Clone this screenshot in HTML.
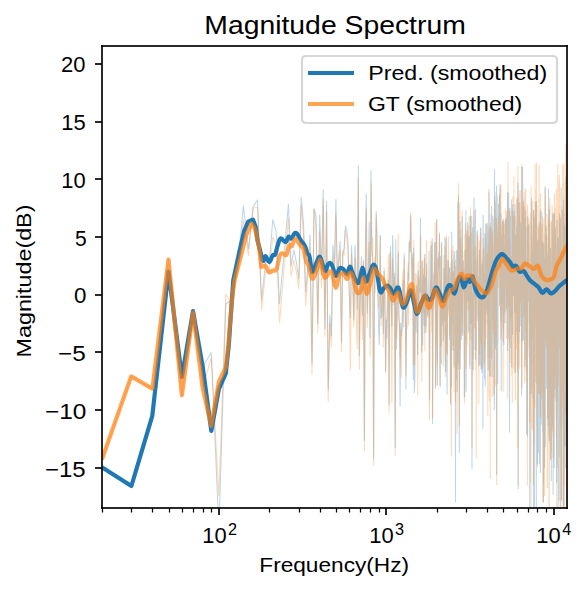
<!DOCTYPE html>
<html><head><meta charset="utf-8"><title>Magnitude Spectrum</title><style>html,body{margin:0;padding:0;background:#fff;}svg{display:block;font-family:"Liberation Sans",sans-serif;}</style></head><body>
<svg width="587" height="591" viewBox="0 0 587 591">
<rect x="0" y="0" width="587" height="591" fill="#ffffff"/>
<defs><clipPath id="ax"><rect x="101.917" y="46.0" width="465.0" height="462.0"/></clipPath></defs>
<g clip-path="url(#ax)" fill="none" stroke-linejoin="round">
<polyline points="101.9,467.2 131.4,486.0 152.3,415.8 168.5,271.5 181.9,377.0 193.0,311.0 202.7,366.6 211.3,352.6 218.9,530.0 225.8,304.0 232.2,300.0 238.0,262.0 243.4,206.0 248.4,249.0 253.1,207.0 257.5,200.0 261.6,300.0 265.6,262.0 269.3,262.0 272.8,219.6 276.2,232.0 279.5,304.0 282.5,270.0 285.5,237.0 288.4,204.0 291.1,266.0 293.8,250.0 296.3,262.0 298.8,279.0 301.2,197.4 303.5,222.3 305.7,292.0 307.9,266.7 310.0,234.9 312.0,364.1 314.0,208.7 316.0,216.0 317.8,323.3 319.7,214.9 321.5,274.6 323.2,189.4 324.9,328.5 326.6,201.2 328.2,389.0 329.8,314.8 331.4,335.7 332.9,244.9 334.4,265.5 335.9,199.3 337.3,274.7 338.8,257.0 340.1,241.2 341.5,342.8 342.8,253.6 344.1,248.0 345.4,226.1 346.7,229.4 347.9,240.2 349.2,291.1 350.4,317.5 351.5,245.8 352.7,274.2 353.8,319.7 355.0,245.5 356.1,273.4 357.2,309.3 358.3,165.8 359.3,355.3 360.4,285.4 361.4,257.1 362.4,315.5 363.4,261.2 364.4,440.5 365.4,239.7 366.3,194.1 367.3,312.9 368.2,274.7 369.2,222.1 370.1,337.8 371.0,170.5 371.9,248.1 372.7,261.8 373.6,458.3 374.5,265.5 375.3,274.1 376.2,211.4 377.0,233.6 377.8,292.5 378.6,329.5 379.4,344.7 380.2,234.9 381.0,318.3 381.8,314.9 382.6,289.7 383.3,333.5 384.1,271.5 384.8,296.4 385.6,371.2 386.3,319.8 387.0,338.0 387.7,298.7 388.4,279.9 389.1,405.0 389.8,266.7 390.5,246.6 391.2,307.3 391.9,326.6 392.6,235.5 393.2,258.1 393.9,304.9 394.5,273.0 395.2,447.6 395.8,239.7 396.4,349.3 397.1,309.3 397.7,281.2 398.3,253.0 398.9,318.5 399.5,325.4 400.1,406.0 400.7,322.9 401.3,335.9 401.9,331.2 402.5,317.2 403.1,280.4 403.7,327.1 404.2,253.4 404.8,304.2 405.4,298.8 405.9,388.8 406.5,332.9 407.0,295.4 407.6,296.1 408.1,271.9 408.6,279.9 409.2,242.6 409.7,241.3 410.2,252.1 410.7,215.5 411.3,255.0 411.8,269.0 412.3,304.0 412.8,253.3 413.3,379.2 413.8,248.2 414.3,392.8 414.8,381.3 415.3,303.0 415.8,299.4 416.2,332.3 416.7,285.5 417.2,289.0 417.7,354.4 418.1,271.0 418.6,314.4 419.1,288.6 419.5,277.0 420.0,291.5 420.5,217.7 420.9,279.4 421.4,330.2 421.8,352.0 422.2,261.5 422.7,345.3 423.1,288.3 423.6,275.0 424.0,324.9 424.4,254.6 424.9,332.8 425.3,277.5 425.7,278.0 426.1,326.3 426.5,263.7 427.0,293.6 427.4,313.7 427.8,315.9 428.2,302.0 428.6,310.2 429.0,250.9 429.4,399.9 429.8,309.2 430.2,301.8 430.6,287.7 431.0,245.8 431.4,309.3 431.8,301.4 432.2,238.5 432.6,423.5 432.9,317.2 433.3,292.0 433.7,273.3 434.1,294.3 434.5,242.7 434.8,297.5 435.2,242.2 435.6,388.5 435.9,335.3 436.3,272.3 436.7,219.3 437.0,335.8 437.4,385.4 437.8,311.5 438.1,257.7 438.5,268.3 438.8,252.3 439.2,252.3 439.5,234.2 439.9,289.5 440.2,387.0 440.6,256.2 440.9,308.0 441.3,363.9 441.6,242.2 441.9,325.5 442.3,296.1 442.6,292.9 442.9,308.3 443.3,341.0 443.6,299.7 443.9,268.0 444.3,295.3 444.6,321.0 444.9,237.3 445.2,347.4 445.6,371.5 445.9,324.0 446.2,238.4 446.5,277.2 446.8,344.8 447.1,393.9 447.5,319.0 447.8,260.1 448.1,291.1 448.4,261.3 448.7,283.0 449.0,310.7 449.3,268.2 449.6,340.1 449.9,267.5 450.2,312.3 450.5,404.3 450.8,327.2 451.1,263.1 451.4,386.5 451.7,232.2 452.0,324.5 452.3,259.8 452.6,294.2 452.9,350.4 453.2,271.4 453.5,275.3 453.8,300.1 454.0,367.1 454.3,256.2 454.6,251.6 454.9,301.6 455.2,259.8 455.5,501.4 455.7,330.9 456.0,379.7 456.3,299.5 456.6,250.4 456.9,312.6 457.1,391.6 457.4,338.9 457.7,202.3 457.9,363.3 458.2,351.2 458.5,195.7 458.8,262.4 459.0,239.9 459.3,452.5 459.6,341.5 459.8,241.2 460.1,221.5 460.3,368.4 460.6,238.2 460.9,249.1 461.1,294.7 461.4,339.6 461.6,270.8 461.9,303.4 462.2,216.4 462.4,282.4 462.7,335.4 462.9,262.3 463.2,276.4 463.4,260.7 463.7,271.1 463.9,281.4 464.2,295.3 464.4,396.5 464.7,396.9 464.9,249.7 465.2,338.9 465.4,252.5 465.7,294.3 465.9,210.3 466.1,391.2 466.4,311.1 466.6,274.6 466.9,235.1 467.1,301.3 467.3,236.8 467.6,222.4 467.8,230.2 468.1,238.3 468.3,332.8 468.5,288.4 468.8,330.8 469.0,264.5 469.2,236.4 469.5,271.2 469.7,285.1 469.9,368.6 470.2,290.6 470.4,216.2 470.6,301.8 470.8,323.4 471.1,310.2 471.3,311.3 471.5,313.2 471.7,216.2 472.0,468.6 472.2,291.7 472.4,347.7 472.6,227.6 472.9,306.7 473.1,342.6 473.3,369.8 473.5,279.2 473.7,240.4 474.0,197.8 474.2,294.3 474.4,270.6 474.6,298.3 474.8,260.1 475.0,349.5 475.2,247.0 475.5,209.6 475.7,359.3 475.9,259.2 476.1,350.5 476.3,302.5 476.5,294.4 476.7,293.6 476.9,272.4 477.1,273.0 477.4,256.3 477.6,230.6 477.8,320.2 478.0,299.6 478.2,300.7 478.4,276.5 478.6,314.9 478.8,365.2 479.0,354.9 479.2,255.5 479.4,250.0 479.6,347.2 479.8,300.9 480.0,365.1 480.2,315.0 480.4,232.6 480.6,341.7 480.8,227.7 481.0,368.9 481.2,319.8 481.4,287.3 481.6,299.5 481.8,372.5 482.0,264.8 482.2,339.1 482.4,307.4 482.6,267.6 482.8,260.0 482.9,428.3 483.1,215.0 483.3,247.3 483.5,249.3 483.7,281.1 483.9,257.0 484.1,269.1 484.3,358.6 484.5,378.7 484.7,261.5 484.8,233.5 485.0,289.9 485.2,385.7 485.4,317.9 485.6,286.2 485.8,247.7 486.0,224.0 486.1,301.9 486.3,238.2 486.5,308.9 486.7,264.0 486.9,310.0 487.1,314.0 487.2,223.2 487.4,287.2 487.6,226.5 487.8,357.0 488.0,286.2 488.1,370.0 488.3,232.3 488.5,230.1 488.7,264.0 488.9,234.5 489.0,189.4 489.2,321.0 489.4,358.1 489.6,345.7 489.7,375.9 489.9,227.8 490.1,252.4 490.3,375.9 490.4,256.7 490.6,247.5 490.8,263.8 491.0,214.5 491.1,279.4 491.3,228.3 491.5,358.5 491.6,206.5 491.8,278.0 492.0,338.1 492.1,376.4 492.3,295.1 492.5,267.7 492.7,236.3 492.8,216.1 493.0,267.6 493.2,219.1 493.3,319.1 493.5,289.1 493.7,381.0 493.8,396.1 494.0,260.0 494.2,303.8 494.3,409.6 494.5,169.6 494.6,266.0 494.8,303.4 495.0,192.6 495.1,276.3 495.3,349.1 495.5,247.6 495.6,201.6 495.8,283.0 495.9,207.3 496.1,344.4 496.3,330.5 496.4,201.1 496.6,186.1 496.7,474.2 496.9,256.7 497.1,195.7 497.2,240.5 497.4,256.3 497.5,240.7 497.7,383.5 497.8,235.9 498.0,343.6 498.2,254.3 498.3,224.5 498.5,204.0 498.6,217.7 498.8,242.6 498.9,222.8 499.1,252.6 499.2,237.7 499.4,199.2 499.6,193.4 499.7,305.5 499.9,250.0 500.0,185.1 500.2,215.8 500.3,275.9 500.5,267.6 500.6,321.2 500.8,246.5 500.9,213.6 501.1,307.7 501.2,391.0 501.4,272.9 501.5,267.8 501.7,315.0 501.8,234.7 502.0,243.6 502.1,303.0 502.3,239.3 502.4,221.9 502.5,251.1 502.7,296.8 502.8,219.7 503.0,318.9 503.1,341.5 503.3,331.8 503.4,219.0 503.6,314.0 503.7,222.4 503.9,344.6 504.0,252.2 504.1,244.0 504.3,316.1 504.4,267.5 504.6,274.1 504.7,312.4 504.9,233.8 505.0,323.0 505.1,243.5 505.3,221.7 505.4,219.6 505.6,228.8 505.7,220.4 505.9,243.4 506.0,311.0 506.1,252.4 506.3,258.4 506.4,307.4 506.5,218.3 506.7,256.8 506.8,239.9 507.0,271.7 507.1,216.5 507.2,308.1 507.4,212.5 507.5,192.4 507.7,350.5 507.8,233.1 507.9,217.9 508.1,224.8 508.2,214.1 508.3,245.1 508.5,305.2 508.6,193.1 508.7,222.3 508.9,338.1 509.0,273.6 509.1,309.2 509.3,281.4 509.4,284.0 509.5,432.0 509.7,380.2 509.8,208.2 509.9,215.8 510.1,294.3 510.2,347.2 510.3,292.3 510.5,216.5 510.6,244.8 510.7,301.5 510.9,288.7 511.0,278.1 511.1,295.2 511.3,316.6 511.4,199.8 511.5,227.4 511.6,317.3 511.8,367.1 511.9,276.7 512.0,217.8 512.2,282.7 512.3,290.0 512.4,211.2 512.5,217.8 512.7,334.3 512.8,204.8 512.9,240.9 513.1,271.6 513.2,216.6 513.3,243.8 513.4,227.5 513.6,247.7 513.7,293.9 513.8,295.5 513.9,227.4 514.1,214.6 514.2,279.9 514.3,211.1 514.4,279.6 514.6,312.4 514.7,257.2 514.8,273.7 514.9,298.6 515.1,204.6 515.2,343.9 515.3,242.6 515.4,371.9 515.6,330.8 515.7,365.6 515.8,255.0 515.9,234.8 516.0,288.1 516.2,298.9 516.3,244.7 516.4,311.7 516.5,227.3 516.7,251.5 516.8,254.3 516.9,220.8 517.0,331.2 517.1,199.8 517.3,249.5 517.4,204.9 517.5,256.8 517.6,372.0 517.7,294.9 517.9,183.2 518.0,187.3 518.1,256.4 518.2,488.5 518.3,262.2 518.4,196.1 518.6,342.9 518.7,320.0 518.8,243.6 518.9,254.8 519.0,317.8 519.2,301.6 519.3,215.7 519.4,227.8 519.5,331.5 519.6,286.9 519.7,202.8 519.8,304.4 520.0,266.9 520.1,296.6 520.2,326.2 520.3,303.6 520.4,270.2 520.5,297.2 520.7,267.9 520.8,302.2 520.9,223.1 521.0,255.0 521.1,302.2 521.2,294.4 521.3,268.3 521.5,257.1 521.6,395.4 521.7,285.5 521.8,167.5 521.9,292.1 522.0,290.0 522.1,312.7 522.2,299.4 522.4,245.6 522.5,306.8 522.6,167.3 522.7,341.1 522.8,184.0 522.9,265.1 523.0,338.3 523.1,271.0 523.2,199.2 523.4,200.7 523.5,339.8 523.6,245.1 523.7,253.4 523.8,291.4 523.9,221.2 524.0,314.5 524.1,248.7 524.2,299.3 524.3,206.7 524.4,283.9 524.6,226.6 524.7,227.7 524.8,259.6 524.9,366.4 525.0,219.2 525.1,293.6 525.2,319.7 525.3,240.0 525.4,217.5 525.5,308.6 525.6,303.0 525.7,211.0 525.8,246.2 526.0,293.4 526.1,359.3 526.2,227.0 526.3,300.4 526.4,287.2 526.5,428.0 526.6,433.9 526.7,393.2 526.8,263.6 526.9,347.7 527.0,422.3 527.1,294.6 527.2,273.1 527.3,289.9 527.4,435.9 527.5,262.0 527.6,228.4 527.7,220.8 527.8,216.5 527.9,295.6 528.0,258.3 528.2,279.5 528.3,300.5 528.4,292.4 528.5,240.8 528.6,291.5 528.7,285.6 528.8,227.1 528.9,323.0 529.0,224.8 529.1,356.6 529.2,280.7 529.3,318.1 529.4,282.5 529.5,350.4 529.6,282.0 529.7,507.0 529.8,282.2 529.9,321.4 530.0,322.6 530.1,482.1 530.2,270.3 530.3,313.0 530.4,311.5 530.5,344.8 530.6,350.3 530.7,329.6 530.8,293.3 530.9,253.8 531.0,393.4 531.1,221.4 531.2,231.4 531.3,388.6 531.4,207.3 531.5,198.7 531.6,364.4 531.7,225.4 531.8,283.9 531.9,270.6 532.0,338.4 532.1,313.9 532.2,301.9 532.3,312.1 532.4,308.6 532.5,322.0 532.6,313.6 532.7,250.3 532.8,266.9 532.9,255.3 532.9,398.3 533.0,279.8 533.1,237.9 533.2,236.0 533.3,328.6 533.4,210.0 533.5,523.3 533.6,228.7 533.7,211.2 533.8,405.8 533.9,455.7 534.0,253.9 534.1,268.3 534.2,294.3 534.3,344.3 534.4,530.0 534.5,217.7 534.6,266.5 534.7,282.4 534.8,319.6 534.9,245.3 534.9,268.9 535.0,283.1 535.1,256.4 535.2,292.9 535.3,279.9 535.4,201.8 535.5,237.0 535.6,313.6 535.7,329.2 535.8,248.4 535.9,382.2 536.0,250.9 536.1,248.2 536.2,254.1 536.3,508.5 536.3,239.1 536.4,242.2 536.5,201.3 536.6,289.1 536.7,340.6 536.8,312.5 536.9,243.3 537.0,362.0 537.1,317.8 537.2,245.6 537.3,275.7 537.4,297.2 537.4,464.1 537.5,242.5 537.6,356.3 537.7,305.7 537.8,240.1 537.9,345.9 538.0,315.0 538.1,262.2 538.2,257.9 538.3,286.8 538.3,302.8 538.4,270.3 538.5,297.8 538.6,274.2 538.7,452.2 538.8,238.6 538.9,225.4 539.0,225.2 539.1,280.6 539.2,369.4 539.2,301.8 539.3,279.0 539.4,222.7 539.5,464.0 539.6,316.8 539.7,309.4 539.8,439.3 539.9,312.2 539.9,311.3 540.0,289.4 540.1,279.4 540.2,336.1 540.3,365.0 540.4,472.5 540.5,255.1 540.6,381.3 540.6,210.3 540.7,422.9 540.8,254.3 540.9,291.8 541.0,391.8 541.1,374.7 541.2,342.6 541.3,423.9 541.3,243.1 541.4,334.4 541.5,394.5 541.6,384.2 541.7,287.6 541.8,388.3 541.9,265.2 541.9,212.0 542.0,308.9 542.1,224.0 542.2,283.4 542.3,341.9 542.4,397.6 542.4,274.7 542.5,296.3 542.6,332.2 542.7,432.0 542.8,263.8 542.9,246.9 543.0,242.6 543.0,431.4 543.1,333.7 543.2,502.6 543.3,355.0 543.4,313.0 543.5,483.8 543.5,341.3 543.6,263.9 543.7,244.1 543.8,368.5 543.9,265.1 544.0,284.2 544.0,257.4 544.1,260.3 544.2,313.4 544.3,265.2 544.4,275.1 544.5,293.6 544.5,364.6 544.6,467.8 544.7,288.8 544.8,266.3 544.9,274.8 544.9,374.6 545.0,316.2 545.1,230.8 545.2,224.1 545.3,186.6 545.4,446.7 545.4,339.0 545.5,308.6 545.6,321.7 545.7,238.4 545.8,262.3 545.8,374.7 545.9,301.6 546.0,303.8 546.1,225.4 546.2,364.1 546.2,256.7 546.3,268.5 546.4,308.6 546.5,279.8 546.6,388.3 546.6,311.5 546.7,236.1 546.8,330.0 546.9,307.6 547.0,376.2 547.0,257.8 547.1,332.0 547.2,307.0 547.3,255.8 547.4,306.9 547.4,326.1 547.5,418.1 547.6,347.0 547.7,382.9 547.8,260.4 547.8,308.7 547.9,311.3 548.0,384.7 548.1,251.3 548.2,365.0 548.2,425.0 548.3,305.8 548.4,274.6 548.5,188.8 548.5,281.1 548.6,348.6 548.7,322.4 548.8,308.6 548.9,433.9 548.9,295.0 549.0,289.7 549.1,276.2 549.2,243.9 549.2,259.2 549.3,440.5 549.4,209.5 549.5,311.3 549.6,288.1 549.6,294.1 549.7,257.3 549.8,264.2 549.9,257.7 549.9,441.1 550.0,278.5 550.1,419.8 550.2,363.6 550.2,323.1 550.3,275.4 550.4,248.2 550.5,458.7 550.5,298.4 550.6,255.9 550.7,342.2 550.8,352.0 550.8,422.8 550.9,282.3 551.0,285.6 551.1,411.8 551.2,302.2 551.2,278.6 551.3,480.5 551.4,296.7 551.5,324.1 551.5,323.9 551.6,321.5 551.7,304.1 551.8,428.7 551.8,248.8 551.9,264.5 552.0,358.1 552.0,245.2 552.1,220.8 552.2,386.7 552.3,333.0 552.3,423.7 552.4,256.8 552.5,242.6 552.6,214.6 552.6,387.2 552.7,313.8 552.8,263.7 552.9,345.7 552.9,224.1 553.0,338.7 553.1,494.3 553.2,213.0 553.2,244.4 553.3,309.6 553.4,330.5 553.4,462.9 553.5,331.1 553.6,333.7 553.7,319.9 553.7,260.9 553.8,277.7 553.9,265.3 554.0,337.3 554.0,239.6 554.1,417.6 554.2,296.5 554.2,467.5 554.3,389.7 554.4,214.3 554.5,265.2 554.5,217.4 554.6,321.8 554.7,336.8 554.7,287.1 554.8,243.8 554.9,389.3 555.0,259.9 555.0,281.7 555.1,269.9 555.2,303.5 555.2,273.4 555.3,227.6 555.4,360.1 555.5,308.2 555.5,233.7 555.6,283.6 555.7,242.4 555.7,254.7 555.8,243.4 555.9,393.5 556.0,400.9 556.0,261.9 556.1,318.3 556.2,311.4 556.2,258.2 556.3,260.6 556.4,257.2 556.4,304.7 556.5,416.6 556.6,419.0 556.7,481.9 556.7,482.0 556.8,354.3 556.9,287.9 556.9,412.1 557.0,283.0 557.1,220.2 557.1,322.1 557.2,348.8 557.3,340.1 557.4,302.5 557.4,250.7 557.5,400.5 557.6,395.5 557.6,293.9 557.7,275.9 557.8,281.4 557.8,265.9 557.9,298.5 558.0,251.9 558.0,237.4 558.1,281.1 558.2,530.0 558.2,355.9 558.3,454.5 558.4,238.5 558.4,347.7 558.5,334.3 558.6,264.7 558.7,255.1 558.7,347.8 558.8,418.8 558.9,438.0 558.9,310.4 559.0,500.3 559.1,241.3 559.1,310.1 559.2,413.3 559.3,220.2 559.3,213.4 559.4,222.6 559.5,350.3 559.5,279.8 559.6,456.8 559.7,277.7 559.7,315.8 559.8,291.9 559.9,271.0 559.9,419.6 560.0,276.6 560.1,389.7 560.1,302.9 560.2,330.0 560.3,230.1 560.3,218.6 560.4,344.9 560.5,253.2 560.5,262.5 560.6,384.0 560.7,340.5 560.7,320.1 560.8,512.2 560.9,335.6 560.9,368.1 561.0,485.3 561.1,315.4 561.1,267.9 561.2,187.9 561.3,359.5 561.3,276.1 561.4,250.2 561.4,319.9 561.5,395.1 561.6,499.5 561.6,434.0 561.7,260.1 561.8,269.5 561.8,293.0 561.9,272.7 562.0,338.7 562.0,277.9 562.1,337.2 562.2,312.1 562.2,284.0 562.3,273.2 562.4,390.5 562.4,274.5 562.5,319.8 562.5,353.9 562.6,272.8 562.7,210.2 562.7,345.7 562.8,295.7 562.9,301.6 562.9,424.7 563.0,414.1 563.1,256.2 563.1,293.1 563.2,351.3 563.3,530.0 563.3,449.9 563.4,308.1 563.4,245.5 563.5,284.6 563.6,200.2 563.6,270.8 563.7,426.8 563.8,388.7 563.8,213.3 563.9,228.6 564.0,530.0 564.0,530.0 564.1,286.8 564.1,286.5 564.2,223.7 564.3,316.5 564.3,242.6 564.4,294.5 564.5,326.9 564.5,321.7 564.6,316.9 564.6,317.4 564.7,347.9 564.8,368.2 564.8,344.6 564.9,362.5 565.0,346.3 565.0,251.7 565.1,446.2 565.1,226.1 565.2,255.9 565.3,253.5 565.3,231.5 565.4,263.3 565.4,301.4 565.5,231.2 565.6,320.7 565.6,301.0 565.7,412.0 565.8,177.0 565.8,270.6 565.9,373.1 565.9,467.7 566.0,324.5 566.1,296.3 566.1,435.8 566.2,331.0 566.2,284.6 566.3,223.8 566.4,342.1 566.4,245.9 566.5,249.8 566.6,277.0 566.6,321.2 566.7,326.6 566.7,424.3 566.8,215.7 566.9,277.8 566.9,351.3" stroke="#1f77b4" stroke-opacity="0.3" stroke-width="1.04"/>
<polyline points="101.9,459.5 131.2,376.4 152.4,388.8 168.5,259.5 181.9,395.3 193.0,312.5 202.7,388.0 211.3,357.7 218.9,496.0 225.8,294.0 232.2,305.0 238.0,270.0 243.4,219.6 248.4,256.0 253.1,208.0 257.5,207.0 261.6,310.0 265.6,272.0 269.3,272.0 272.8,237.0 276.2,244.0 279.5,322.8 282.5,287.0 285.5,252.6 288.4,218.1 291.1,276.4 293.8,260.2 296.3,271.4 298.8,288.8 301.2,206.0 303.5,234.6 305.7,305.8 307.9,273.2 310.0,247.6 312.0,374.3 314.0,209.1 316.0,227.4 317.8,332.8 319.7,231.6 321.5,288.0 323.2,199.1 324.9,336.5 326.6,211.8 328.2,401.6 329.8,324.3 331.4,346.9 332.9,256.8 334.4,288.5 335.9,214.7 337.3,274.3 338.8,262.4 340.1,250.8 341.5,351.4 342.8,250.5 344.1,255.5 345.4,229.8 346.7,238.1 347.9,248.4 349.2,287.5 350.4,369.6 351.5,253.5 352.7,284.2 353.8,327.1 355.0,257.7 356.1,312.5 357.2,348.4 358.3,177.8 359.3,369.3 360.4,297.1 361.4,286.3 362.4,339.6 363.4,258.9 364.4,451.1 365.4,267.5 366.3,208.3 367.3,327.4 368.2,282.5 369.2,242.2 370.1,356.3 371.0,183.4 371.9,255.8 372.7,237.9 373.6,465.3 374.5,257.3 375.3,292.2 376.2,215.6 377.0,259.8 377.8,276.2 378.6,307.3 379.4,290.0 380.2,236.4 381.0,325.8 381.8,287.6 382.6,282.6 383.3,346.9 384.1,268.1 384.8,277.9 385.6,372.8 386.3,327.9 387.0,307.8 387.7,291.4 388.4,254.8 389.1,412.1 389.8,253.8 390.5,252.3 391.2,291.1 391.9,403.0 392.6,259.3 393.2,285.4 393.9,297.3 394.5,277.1 395.2,455.6 395.8,283.7 396.4,338.2 397.1,323.9 397.7,283.4 398.3,234.3 398.9,315.8 399.5,321.2 400.1,357.7 400.7,330.1 401.3,377.8 401.9,323.8 402.5,278.4 403.1,270.2 403.7,305.8 404.2,257.0 404.8,299.4 405.4,311.3 405.9,375.2 406.5,322.7 407.0,328.9 407.6,288.0 408.1,263.0 408.6,325.0 409.2,242.4 409.7,247.2 410.2,235.5 410.7,212.4 411.3,251.4 411.8,259.0 412.3,288.4 412.8,257.0 413.3,364.5 413.8,240.1 414.3,354.0 414.8,364.7 415.3,273.4 415.8,290.9 416.2,316.9 416.7,274.8 417.2,284.1 417.7,395.4 418.1,261.6 418.6,284.1 419.1,305.3 419.5,291.7 420.0,289.0 420.5,236.2 420.9,293.8 421.4,316.0 421.8,381.9 422.2,260.2 422.7,312.4 423.1,271.3 423.6,268.4 424.0,313.2 424.4,258.4 424.9,350.4 425.3,270.0 425.7,254.3 426.1,332.4 426.5,240.4 427.0,299.5 427.4,291.9 427.8,318.0 428.2,313.4 428.6,307.8 429.0,296.0 429.4,419.4 429.8,391.1 430.2,281.8 430.6,303.5 431.0,241.1 431.4,313.7 431.8,332.1 432.2,242.9 432.6,418.0 432.9,365.1 433.3,286.4 433.7,309.0 434.1,287.2 434.5,261.3 434.8,277.4 435.2,222.7 435.6,386.1 435.9,374.4 436.3,296.3 436.7,220.8 437.0,306.1 437.4,362.9 437.8,296.9 438.1,260.1 438.5,307.1 438.8,257.6 439.2,275.8 439.5,232.5 439.9,385.1 440.2,318.9 440.6,280.9 440.9,317.2 441.3,346.1 441.6,244.1 441.9,295.6 442.3,322.5 442.6,306.6 442.9,320.9 443.3,366.3 443.6,307.1 443.9,255.6 444.3,301.9 444.6,335.3 444.9,246.6 445.2,347.4 445.6,376.5 445.9,325.4 446.2,235.4 446.5,291.7 446.8,353.0 447.1,331.8 447.5,354.0 447.8,269.2 448.1,262.4 448.4,236.7 448.7,315.1 449.0,267.7 449.3,303.0 449.6,335.1 449.9,296.7 450.2,283.6 450.5,401.7 450.8,340.3 451.1,272.3 451.4,456.1 451.7,250.4 452.0,304.8 452.3,273.4 452.6,282.3 452.9,345.3 453.2,246.3 453.5,274.6 453.8,303.8 454.0,391.9 454.3,262.1 454.6,268.1 454.9,304.6 455.2,266.4 455.5,401.5 455.7,334.9 456.0,369.7 456.3,297.1 456.6,327.0 456.9,286.5 457.1,433.7 457.4,331.6 457.7,251.1 457.9,363.6 458.2,369.0 458.5,183.0 458.8,243.3 459.0,279.0 459.3,425.7 459.6,343.3 459.8,202.7 460.1,239.8 460.3,348.8 460.6,243.7 460.9,230.6 461.1,334.4 461.4,311.0 461.6,296.0 461.9,299.9 462.2,210.6 462.4,255.6 462.7,332.4 462.9,251.4 463.2,291.6 463.4,270.9 463.7,269.2 463.9,281.4 464.2,331.5 464.4,403.0 464.7,351.9 464.9,234.3 465.2,285.3 465.4,223.6 465.7,285.4 465.9,249.4 466.1,368.0 466.4,343.5 466.6,254.8 466.9,230.9 467.1,344.3 467.3,285.6 467.6,245.0 467.8,257.3 468.1,235.0 468.3,310.2 468.5,225.8 468.8,300.3 469.0,245.7 469.2,216.2 469.5,243.1 469.7,281.6 469.9,365.6 470.2,283.7 470.4,207.3 470.6,292.6 470.8,339.3 471.1,293.2 471.3,329.3 471.5,317.3 471.7,233.2 472.0,447.9 472.2,309.8 472.4,375.1 472.6,338.6 472.9,294.5 473.1,358.7 473.3,334.1 473.5,274.4 473.7,227.0 474.0,211.0 474.2,281.3 474.4,287.8 474.6,328.0 474.8,328.3 475.0,324.3 475.2,258.7 475.5,246.9 475.7,368.3 475.9,270.8 476.1,311.7 476.3,457.9 476.5,262.1 476.7,232.8 476.9,270.9 477.1,269.8 477.4,250.5 477.6,236.5 477.8,292.8 478.0,288.7 478.2,316.6 478.4,297.4 478.6,321.9 478.8,403.8 479.0,267.9 479.2,262.5 479.4,240.8 479.6,354.3 479.8,260.5 480.0,341.4 480.2,336.5 480.4,235.3 480.6,309.5 480.8,228.5 481.0,344.6 481.2,257.0 481.4,286.1 481.6,307.6 481.8,368.5 482.0,304.6 482.2,321.0 482.4,329.8 482.6,251.3 482.8,251.1 482.9,366.4 483.1,238.6 483.3,275.3 483.5,248.8 483.7,307.3 483.9,247.7 484.1,301.9 484.3,331.8 484.5,362.4 484.7,274.3 484.8,356.7 485.0,285.4 485.2,346.7 485.4,324.0 485.6,335.5 485.8,239.2 486.0,223.2 486.1,338.2 486.3,261.4 486.5,294.3 486.7,287.2 486.9,301.5 487.1,323.8 487.2,252.9 487.4,279.9 487.6,280.2 487.8,415.4 488.0,294.1 488.1,369.8 488.3,243.8 488.5,295.1 488.7,276.5 488.9,273.9 489.0,192.8 489.2,396.6 489.4,356.9 489.6,401.1 489.7,376.0 489.9,258.2 490.1,225.2 490.3,478.2 490.4,223.0 490.6,263.4 490.8,276.3 491.0,227.9 491.1,259.3 491.3,229.8 491.5,279.1 491.6,238.4 491.8,297.0 492.0,352.1 492.1,396.4 492.3,276.9 492.5,266.5 492.7,233.9 492.8,231.9 493.0,328.7 493.2,245.5 493.3,282.2 493.5,333.8 493.7,282.7 493.8,333.6 494.0,281.3 494.2,314.1 494.3,393.5 494.5,196.6 494.6,249.5 494.8,235.4 495.0,209.3 495.1,334.5 495.3,386.2 495.5,257.5 495.6,218.1 495.8,336.4 495.9,250.4 496.1,281.6 496.3,232.2 496.4,225.5 496.6,218.5 496.7,484.5 496.9,254.2 497.1,226.2 497.2,262.7 497.4,254.3 497.5,250.2 497.7,237.6 497.8,237.4 498.0,252.7 498.2,287.7 498.3,283.5 498.5,216.2 498.6,227.2 498.8,259.1 498.9,223.0 499.1,278.2 499.2,268.8 499.4,195.2 499.6,201.4 499.7,306.2 499.9,228.6 500.0,233.6 500.2,187.3 500.3,288.6 500.5,248.3 500.6,339.6 500.8,240.4 500.9,183.9 501.1,313.9 501.2,337.7 501.4,321.3 501.5,330.5 501.7,316.9 501.8,255.0 502.0,252.8 502.1,225.5 502.3,241.1 502.4,230.8 502.5,221.3 502.7,329.1 502.8,224.7 503.0,326.2 503.1,391.7 503.3,357.9 503.4,221.2 503.6,326.4 503.7,231.8 503.9,288.1 504.0,224.3 504.1,263.6 504.3,313.3 504.4,292.8 504.6,247.9 504.7,306.2 504.9,280.3 505.0,287.8 505.1,282.0 505.3,208.4 505.4,228.0 505.6,222.1 505.7,224.0 505.9,263.6 506.0,229.7 506.1,242.2 506.3,278.4 506.4,338.5 506.5,211.5 506.7,285.5 506.8,216.0 507.0,296.1 507.1,290.3 507.2,263.1 507.4,248.4 507.5,211.2 507.7,397.4 507.8,246.8 507.9,162.3 508.1,244.5 508.2,228.9 508.3,238.9 508.5,290.7 508.6,208.2 508.7,305.7 508.9,278.7 509.0,238.0 509.1,282.5 509.3,224.7 509.4,318.2 509.5,338.4 509.7,342.7 509.8,211.2 509.9,215.2 510.1,362.6 510.2,334.9 510.3,244.7 510.5,270.2 510.6,274.6 510.7,293.8 510.9,301.9 511.0,291.9 511.1,299.6 511.3,321.8 511.4,259.3 511.5,256.4 511.6,356.5 511.8,375.2 511.9,292.6 512.0,313.3 512.2,324.8 512.3,402.6 512.4,210.4 512.5,231.2 512.7,263.3 512.8,196.7 512.9,294.0 513.1,276.6 513.2,234.6 513.3,239.6 513.4,238.4 513.6,269.7 513.7,369.1 513.8,230.2 513.9,176.5 514.1,239.6 514.2,286.0 514.3,214.9 514.4,252.4 514.6,372.4 514.7,305.3 514.8,243.7 514.9,252.0 515.1,216.2 515.2,289.5 515.3,285.4 515.4,399.7 515.6,292.4 515.7,336.6 515.8,283.9 515.9,236.6 516.0,290.9 516.2,302.7 516.3,234.3 516.4,277.4 516.5,264.5 516.7,267.8 516.8,349.1 516.9,198.0 517.0,285.8 517.1,210.5 517.3,218.7 517.4,204.0 517.5,225.9 517.6,447.4 517.7,291.6 517.9,166.6 518.0,191.3 518.1,320.1 518.2,485.4 518.3,283.0 518.4,202.2 518.6,287.7 518.7,328.2 518.8,299.0 518.9,253.8 519.0,230.2 519.2,368.8 519.3,204.8 519.4,243.9 519.5,272.4 519.6,363.5 519.7,190.7 519.8,261.6 520.0,274.9 520.1,317.6 520.2,268.8 520.3,222.3 520.4,246.4 520.5,203.6 520.7,276.8 520.8,302.4 520.9,239.0 521.0,190.6 521.1,216.0 521.2,230.7 521.3,279.9 521.5,255.7 521.6,366.6 521.7,284.4 521.8,164.1 521.9,294.8 522.0,329.6 522.1,388.1 522.2,304.9 522.4,215.2 522.5,297.2 522.6,210.3 522.7,254.7 522.8,226.7 522.9,216.5 523.0,243.9 523.1,291.4 523.2,201.6 523.4,204.4 523.5,274.1 523.6,299.9 523.7,316.9 523.8,260.5 523.9,236.0 524.0,248.5 524.1,311.8 524.2,267.9 524.3,265.8 524.4,192.1 524.6,382.9 524.7,254.0 524.8,251.9 524.9,229.5 525.0,204.6 525.1,271.7 525.2,188.8 525.3,232.3 525.4,230.0 525.5,223.2 525.6,329.9 525.7,188.6 525.8,257.2 526.0,279.2 526.1,368.9 526.2,299.3 526.3,274.2 526.4,271.9 526.5,315.0 526.6,370.2 526.7,372.6 526.8,259.5 526.9,381.2 527.0,364.2 527.1,313.2 527.2,204.6 527.3,276.6 527.4,485.1 527.5,245.9 527.6,232.8 527.7,206.5 527.8,232.8 527.9,247.2 528.0,254.9 528.2,287.4 528.3,279.8 528.4,255.0 528.5,268.3 528.6,224.2 528.7,259.4 528.8,302.7 528.9,303.0 529.0,219.0 529.1,303.4 529.2,305.4 529.3,345.8 529.4,266.1 529.5,312.4 529.6,293.9 529.7,245.9 529.8,280.9 529.9,422.6 530.0,253.5 530.1,327.5 530.2,416.0 530.3,301.5 530.4,228.5 530.5,213.4 530.6,263.3 530.7,345.3 530.8,239.3 530.9,252.9 531.0,530.0 531.1,186.9 531.2,252.7 531.3,399.9 531.4,211.6 531.5,231.2 531.6,357.5 531.7,323.0 531.8,257.7 531.9,428.1 532.0,238.7 532.1,275.4 532.2,238.8 532.3,301.0 532.4,303.6 532.5,317.0 532.6,280.5 532.7,200.9 532.8,276.2 532.9,326.6 532.9,430.1 533.0,272.6 533.1,211.1 533.2,216.2 533.3,299.4 533.4,241.7 533.5,483.9 533.6,222.2 533.7,211.0 533.8,304.9 533.9,442.7 534.0,264.1 534.1,242.6 534.2,277.6 534.3,315.3 534.4,259.9 534.5,216.9 534.6,247.1 534.7,297.3 534.8,295.0 534.9,241.0 534.9,407.0 535.0,298.1 535.1,163.9 535.2,224.8 535.3,230.3 535.4,214.1 535.5,224.7 535.6,284.1 535.7,222.4 535.8,261.1 535.9,375.8 536.0,216.5 536.1,190.3 536.2,247.1 536.3,382.9 536.3,207.3 536.4,256.2 536.5,162.8 536.6,248.3 536.7,273.0 536.8,220.6 536.9,292.3 537.0,206.1 537.1,425.8 537.2,224.0 537.3,248.9 537.4,290.3 537.4,277.5 537.5,227.5 537.6,467.2 537.7,331.8 537.8,258.8 537.9,318.1 538.0,368.6 538.1,228.9 538.2,233.2 538.3,237.1 538.3,391.9 538.4,253.0 538.5,231.6 538.6,247.0 538.7,393.4 538.8,198.2 538.9,231.6 539.0,210.7 539.1,271.9 539.2,165.5 539.2,227.5 539.3,316.1 539.4,211.5 539.5,392.6 539.6,296.3 539.7,394.3 539.8,353.3 539.9,295.2 539.9,317.3 540.0,311.1 540.1,340.1 540.2,344.0 540.3,222.1 540.4,322.6 540.5,234.6 540.6,417.0 540.6,193.7 540.7,389.0 540.8,339.0 540.9,279.2 541.0,401.6 541.1,323.3 541.2,362.9 541.3,398.2 541.3,228.0 541.4,349.2 541.5,330.0 541.6,389.7 541.7,369.0 541.8,308.0 541.9,238.6 541.9,303.8 542.0,374.0 542.1,223.6 542.2,247.7 542.3,306.3 542.4,383.7 542.4,258.2 542.5,300.9 542.6,255.9 542.7,288.3 542.8,260.3 542.9,217.1 543.0,270.8 543.0,501.5 543.1,263.6 543.2,311.3 543.3,219.7 543.4,312.4 543.5,501.0 543.5,332.4 543.6,281.7 543.7,264.5 543.8,235.0 543.9,287.3 544.0,263.5 544.0,246.6 544.1,249.3 544.2,314.8 544.3,258.9 544.4,269.4 544.5,324.3 544.5,418.5 544.6,495.5 544.7,278.9 544.8,254.2 544.9,187.7 544.9,304.7 545.0,307.4 545.1,241.9 545.2,305.2 545.3,197.7 545.4,196.8 545.4,281.9 545.5,275.7 545.6,322.8 545.7,228.3 545.8,253.6 545.8,342.1 545.9,339.3 546.0,327.6 546.1,310.1 546.2,309.1 546.2,256.7 546.3,228.8 546.4,346.9 546.5,280.1 546.6,257.1 546.6,309.6 546.7,276.8 546.8,260.2 546.9,259.0 547.0,220.8 547.0,214.0 547.1,270.4 547.2,296.7 547.3,259.3 547.4,278.8 547.4,426.9 547.5,487.7 547.6,245.5 547.7,312.0 547.8,306.1 547.8,259.8 547.9,341.4 548.0,261.3 548.1,323.5 548.2,436.6 548.2,334.5 548.3,271.5 548.4,276.0 548.5,220.0 548.5,337.0 548.6,287.8 548.7,444.0 548.8,268.1 548.9,420.2 548.9,272.4 549.0,519.6 549.1,216.8 549.2,339.5 549.2,225.4 549.3,530.0 549.4,204.6 549.5,323.0 549.6,358.1 549.6,241.4 549.7,384.0 549.8,289.4 549.9,198.5 549.9,415.3 550.0,312.6 550.1,361.8 550.2,248.1 550.2,350.9 550.3,250.1 550.4,236.3 550.5,357.7 550.5,222.8 550.6,339.6 550.7,340.5 550.8,411.0 550.8,387.2 550.9,460.0 551.0,236.3 551.1,443.6 551.2,331.5 551.2,222.3 551.3,321.4 551.4,369.9 551.5,451.5 551.5,297.1 551.6,343.9 551.7,360.4 551.8,436.8 551.8,268.4 551.9,272.6 552.0,232.8 552.0,234.1 552.1,206.0 552.2,272.4 552.3,386.4 552.3,278.9 552.4,294.0 552.5,312.5 552.6,241.2 552.6,374.5 552.7,301.6 552.8,238.9 552.9,431.8 552.9,280.8 553.0,313.1 553.1,385.5 553.2,314.4 553.2,230.5 553.3,352.6 553.4,297.0 553.4,457.4 553.5,285.4 553.6,350.0 553.7,297.5 553.7,212.7 553.8,341.9 553.9,258.5 554.0,292.2 554.0,231.1 554.1,303.9 554.2,230.3 554.2,340.6 554.3,397.6 554.4,193.9 554.5,196.6 554.5,196.5 554.6,216.6 554.7,302.0 554.7,250.6 554.8,286.9 554.9,374.2 555.0,300.5 555.0,264.8 555.1,229.1 555.2,372.0 555.2,271.5 555.3,208.2 555.4,230.0 555.5,272.4 555.5,320.1 555.6,290.3 555.7,273.1 555.7,228.0 555.8,288.3 555.9,383.5 556.0,418.8 556.0,233.9 556.1,280.7 556.2,437.0 556.2,268.9 556.3,269.6 556.4,189.1 556.4,268.5 556.5,433.9 556.6,359.4 556.7,530.0 556.7,385.8 556.8,256.4 556.9,241.0 556.9,268.6 557.0,368.1 557.1,215.4 557.1,249.3 557.2,435.0 557.3,273.2 557.4,467.2 557.4,214.9 557.5,215.8 557.6,311.4 557.6,272.4 557.7,331.0 557.8,164.1 557.8,285.8 557.9,272.7 558.0,386.2 558.0,242.2 558.1,275.1 558.2,335.3 558.2,213.5 558.3,377.7 558.4,244.0 558.4,253.5 558.5,261.7 558.6,185.8 558.7,180.8 558.7,235.9 558.8,335.5 558.9,243.0 558.9,276.7 559.0,236.6 559.1,238.9 559.1,206.7 559.2,270.8 559.3,251.2 559.3,175.2 559.4,179.9 559.5,267.5 559.5,212.8 559.6,347.9 559.7,264.9 559.7,303.5 559.8,185.1 559.9,256.2 559.9,336.9 560.0,275.4 560.1,343.8 560.1,530.0 560.2,351.3 560.3,360.5 560.3,216.7 560.4,332.5 560.5,377.4 560.5,318.9 560.6,351.1 560.7,215.9 560.7,390.2 560.8,380.3 560.9,263.4 560.9,427.2 561.0,299.9 561.1,263.5 561.1,240.3 561.2,279.3 561.3,282.1 561.3,250.3 561.4,317.3 561.4,348.2 561.5,335.6 561.6,500.7 561.6,459.1 561.7,242.6 561.8,247.2 561.8,312.4 561.9,259.6 562.0,406.9 562.0,207.0 562.1,388.6 562.2,354.0 562.2,222.0 562.3,238.8 562.4,312.7 562.4,239.3 562.5,344.4 562.5,351.0 562.6,289.8 562.7,164.4 562.7,233.3 562.8,364.3 562.9,396.9 562.9,365.8 563.0,291.9 563.1,339.1 563.1,233.8 563.2,496.0 563.3,530.0 563.3,267.9 563.4,262.8 563.4,284.8 563.5,474.9 563.6,182.8 563.6,392.6 563.7,245.8 563.8,383.6 563.8,230.6 563.9,163.7 564.0,530.0 564.0,344.0 564.1,244.6 564.1,283.5 564.2,215.6 564.3,432.5 564.3,240.7 564.4,257.4 564.5,443.7 564.5,454.9 564.6,486.2 564.6,219.1 564.7,257.8 564.8,452.8 564.8,248.6 564.9,244.9 565.0,298.5 565.0,230.2 565.1,352.8 565.1,196.0 565.2,232.6 565.3,182.0 565.3,217.7 565.4,297.5 565.4,388.1 565.5,201.0 565.6,342.2 565.6,349.3 565.7,361.8 565.8,144.1 565.8,323.0 565.9,292.3 565.9,413.7 566.0,221.6 566.1,243.6 566.1,335.7 566.2,318.9 566.2,225.5 566.3,348.8 566.4,253.7 566.4,283.9 566.5,214.1 566.6,222.6 566.6,312.7 566.7,394.4 566.7,436.3 566.8,180.3 566.9,430.7 566.9,202.0" stroke="#ff7f0e" stroke-opacity="0.3" stroke-width="1.04"/>
<polyline points="101.9,467.2 131.4,486.0 152.3,415.8 168.5,271.5 181.9,377.0 193.0,311.0 202.7,366.6 211.3,431.0 218.9,389.0 225.8,373.5 228.8,345.0 230.5,320.0 233.3,280.0 239.4,251.5 244.1,231.2 248.2,221.7 252.9,219.6 255.7,227.1 257.6,240.7 262.6,260.4 263.5,260.8 264.1,259.1 264.8,257.0 265.5,256.1 266.4,257.2 267.4,259.2 268.4,261.2 269.3,262.0 270.2,261.1 271.1,259.1 271.9,256.9 272.7,255.3 273.4,254.9 274.0,255.0 274.6,255.1 275.2,254.4 275.8,252.6 276.5,250.1 277.1,247.4 277.8,245.1 278.5,243.0 279.1,240.9 279.8,239.3 280.7,238.4 281.9,238.8 283.2,240.2 284.6,241.6 285.7,242.1 286.6,241.2 287.2,239.5 287.9,237.7 288.5,236.7 289.2,236.9 289.8,237.7 290.5,238.5 291.2,238.7 292.0,237.7 292.9,236.1 293.8,234.4 294.6,233.3 295.3,232.9 295.9,232.9 296.6,233.3 297.3,234.0 298.1,235.2 298.9,236.8 299.8,238.5 300.7,240.1 301.7,241.4 302.7,242.7 303.8,244.0 304.7,245.5 305.5,247.5 306.2,249.7 306.8,251.9 307.4,253.6 308.0,254.4 308.4,254.5 308.9,254.8 309.5,256.3 310.1,259.8 310.8,264.8 311.4,269.4 312.2,271.9 313.1,271.6 314.0,269.4 315.0,266.5 315.9,264.0 316.8,261.7 317.8,259.3 318.7,257.3 319.6,256.6 320.5,257.8 321.4,260.2 322.2,263.1 323.0,265.5 323.7,267.4 324.4,269.2 325.0,270.6 325.6,271.0 326.2,270.0 326.9,267.8 327.5,265.5 328.2,264.0 329.0,263.3 329.8,262.9 330.6,263.2 331.6,264.2 332.7,266.8 333.9,270.6 335.1,274.1 336.2,276.0 337.1,275.2 337.8,272.8 338.6,270.1 339.4,268.3 340.4,267.8 341.4,268.0 342.5,268.6 343.5,269.3 344.4,270.5 345.3,272.2 346.2,273.7 347.0,274.1 347.8,272.7 348.5,270.1 349.3,267.6 350.1,266.7 351.0,268.0 351.8,270.6 352.8,273.6 353.8,276.2 354.9,278.6 356.2,281.1 357.4,282.8 358.6,282.9 359.7,280.0 360.7,275.0 361.7,270.2 362.6,268.0 363.5,269.9 364.3,274.3 365.2,279.0 366.0,281.6 366.8,281.3 367.7,279.3 368.5,276.6 369.4,274.1 370.4,271.5 371.5,268.4 372.5,265.8 373.5,264.6 374.4,265.0 375.2,266.5 376.0,269.0 376.8,272.1 377.6,276.7 378.5,282.6 379.3,288.1 380.2,291.7 381.1,292.5 381.9,291.4 382.7,289.7 383.6,288.4 384.5,287.6 385.3,286.7 386.2,286.0 387.0,285.7 387.9,285.9 388.7,286.5 389.6,287.4 390.4,288.4 391.2,289.8 392.0,291.7 392.9,293.2 393.8,293.8 394.9,292.4 396.1,289.8 397.3,287.5 398.5,287.5 399.6,291.1 400.7,297.1 401.8,303.2 402.8,307.0 403.8,307.7 404.8,306.7 405.8,304.6 406.8,302.4 407.8,299.3 408.9,295.3 409.9,291.8 410.8,290.2 411.6,291.3 412.2,294.1 412.9,297.7 413.6,301.1 414.4,304.7 415.2,308.8 416.0,312.3 416.9,313.9 417.9,312.9 418.9,310.2 420.0,306.7 421.0,303.8 422.0,301.4 423.1,298.9 424.1,296.8 425.1,295.7 426.0,296.0 426.9,297.3 427.7,298.8 428.5,299.7 429.3,300.0 430.1,300.0 430.9,299.5 431.8,298.4 432.8,296.0 433.8,292.5 434.9,289.3 435.9,287.5 436.8,287.6 437.6,289.0 438.4,291.0 439.3,292.9 440.3,295.3 441.3,298.2 442.4,300.5 443.4,301.1 444.4,299.0 445.4,294.9 446.4,290.6 447.4,287.5 448.3,286.0 449.1,285.1 449.9,285.0 450.8,285.5 451.7,287.3 452.6,290.3 453.6,292.8 454.5,293.5 455.5,291.2 456.5,286.9 457.5,282.4 458.4,279.2 459.2,277.7 459.8,277.0 460.5,277.1 461.1,277.8 461.8,279.8 462.4,283.0 463.1,285.9 463.8,287.3 464.6,286.3 465.5,283.7 466.4,280.9 467.2,279.2 467.9,279.3 468.6,280.4 469.2,281.5 469.9,281.9 470.6,280.7 471.2,278.6 471.9,276.8 472.6,276.5 473.2,278.4 473.9,281.8 474.5,285.6 475.3,288.7 476.2,291.0 477.3,293.1 478.3,294.8 479.4,296.1 480.4,297.0 481.5,297.4 482.5,297.4 483.5,296.8 484.5,295.6 485.5,293.7 486.5,291.4 487.5,288.7 488.5,285.4 489.5,281.5 490.6,277.5 491.6,273.8 492.6,270.4 493.7,267.1 494.7,264.1 495.7,261.6 496.6,259.7 497.4,258.3 498.2,257.2 499.0,256.2 499.8,255.3 500.7,254.6 501.5,254.1 502.4,254.1 503.4,254.7 504.4,255.7 505.5,257.0 506.5,258.2 507.6,259.3 508.7,260.6 509.7,261.8 510.6,262.9 511.2,264.1 511.7,265.3 512.1,266.4 512.7,267.0 513.5,266.9 514.3,266.2 515.2,265.6 516.1,265.7 516.9,266.8 517.8,268.7 518.6,270.5 519.5,271.7 520.5,271.9 521.6,271.5 522.6,271.0 523.6,271.1 524.5,271.9 525.3,273.1 526.1,274.5 526.9,275.8 527.7,277.0 528.5,278.3 529.4,279.5 530.3,280.6 531.3,281.5 532.3,282.3 533.4,283.1 534.4,283.9 535.4,284.7 536.5,285.5 537.5,286.3 538.5,287.3 539.5,288.7 540.5,290.5 541.5,292.0 542.5,292.8 543.5,292.4 544.5,291.2 545.6,289.9 546.6,289.4 547.6,290.0 548.7,291.3 549.7,292.6 550.7,293.4 551.7,293.4 552.7,292.9 553.7,292.2 554.7,291.4 555.7,290.4 556.8,289.1 557.8,287.8 558.8,286.7 559.8,285.7 560.8,284.9 561.8,284.1 562.8,283.3 563.7,282.6 564.5,281.9 565.3,281.2 566.2,280.6 567.2,280.0 568.3,279.4 569.3,278.9 570.0,278.5" stroke="#1f77b4" stroke-width="4.17"/>
<polyline points="101.9,459.5 131.2,376.4 152.4,388.8 168.5,259.5 181.9,395.3 193.0,312.5 202.7,388.0 211.1,425.8 218.9,381.5 225.8,367.5 228.3,345.0 230.3,320.0 232.6,293.6 234.6,280.0 240.7,256.9 246.2,235.2 251.5,223.5 255.0,229.0 259.0,247.0 261.3,267.1 265.1,265.4 266.1,266.7 267.0,268.8 267.9,270.9 268.9,272.2 269.8,272.4 270.8,271.9 271.7,271.1 272.7,270.5 273.7,270.4 274.6,270.6 275.6,270.4 276.5,269.2 277.4,266.3 278.2,262.3 279.1,258.2 279.9,255.3 280.7,253.9 281.4,253.4 282.2,253.4 283.0,253.5 283.8,253.9 284.7,254.7 285.6,255.3 286.4,255.0 287.1,253.2 287.8,250.3 288.4,247.4 289.1,245.5 289.8,245.2 290.4,245.7 291.1,246.4 291.8,246.2 292.6,244.6 293.4,242.2 294.3,239.9 295.2,238.7 296.2,239.2 297.2,240.6 298.3,242.5 299.3,244.1 300.4,245.2 301.4,246.1 302.5,247.2 303.4,248.9 304.2,251.6 304.8,255.0 305.5,258.4 306.1,261.1 306.8,262.8 307.4,263.8 308.1,264.8 308.8,266.5 309.6,269.5 310.4,273.4 311.3,276.8 312.2,278.7 313.2,278.5 314.2,276.8 315.2,274.4 316.2,271.9 317.2,268.7 318.2,264.6 319.1,261.2 320.0,259.7 320.8,261.0 321.4,264.3 322.1,268.2 322.7,271.3 323.3,273.6 323.9,275.6 324.5,277.2 325.2,277.9 326.0,277.3 327.0,275.8 327.9,274.0 328.8,272.8 329.6,272.0 330.3,271.3 331.0,271.2 331.8,272.3 332.8,275.7 333.8,280.7 334.9,285.3 335.9,287.6 336.8,286.2 337.6,282.6 338.5,278.4 339.4,275.4 340.4,274.0 341.4,273.3 342.5,273.1 343.5,273.4 344.4,274.5 345.3,276.4 346.2,278.2 347.0,278.9 347.8,277.9 348.6,275.9 349.3,273.8 350.1,272.8 350.8,273.0 351.6,273.9 352.3,275.4 353.1,277.5 353.9,280.7 354.7,284.9 355.6,289.0 356.5,291.7 357.5,292.9 358.6,293.1 359.7,292.5 360.6,291.1 361.4,287.9 362.0,283.2 362.6,279.1 363.3,277.5 364.1,280.1 364.9,285.6 365.8,291.0 366.7,293.8 367.7,292.8 368.7,289.5 369.8,285.4 370.7,281.6 371.5,278.0 372.1,274.1 372.7,270.7 373.5,268.7 374.4,268.7 375.4,270.0 376.5,271.9 377.5,273.5 378.5,274.5 379.5,275.3 380.6,276.2 381.6,277.5 382.6,279.3 383.7,281.4 384.7,283.7 385.7,285.7 386.7,287.4 387.7,289.0 388.7,290.7 389.7,292.4 390.6,294.7 391.4,297.4 392.2,299.7 393.1,300.6 394.2,299.3 395.4,296.4 396.7,293.6 397.8,292.4 398.8,293.7 399.6,296.5 400.4,299.6 401.2,301.9 401.9,303.1 402.6,303.9 403.4,304.2 404.1,303.8 404.9,302.6 405.7,300.6 406.6,298.2 407.5,295.7 408.5,292.5 409.5,288.6 410.6,285.4 411.5,284.1 412.3,285.6 412.9,288.9 413.6,293.1 414.2,297.0 414.8,301.1 415.5,305.7 416.1,309.7 416.9,311.9 417.8,311.8 418.9,310.0 419.9,307.5 421.0,305.1 422.0,302.4 423.1,299.2 424.1,296.6 425.1,295.7 426.0,297.6 426.9,301.5 427.7,305.6 428.5,307.8 429.3,307.7 430.2,306.3 431.0,304.1 431.8,301.7 432.6,298.6 433.5,294.7 434.3,291.3 435.2,289.6 436.2,290.3 437.2,292.7 438.3,295.8 439.3,298.4 440.2,300.9 441.0,303.6 441.8,305.8 442.7,306.5 443.7,305.1 444.7,302.3 445.7,299.0 446.7,296.3 447.7,294.4 448.8,292.7 449.8,291.3 450.8,290.2 451.7,289.6 452.5,289.5 453.3,289.2 454.2,288.2 455.2,286.0 456.3,283.1 457.4,280.1 458.4,277.8 459.3,276.1 460.2,274.8 461.0,274.0 461.8,273.8 462.5,274.7 463.2,276.5 463.8,278.2 464.5,279.2 465.1,278.9 465.8,277.8 466.4,276.6 467.2,275.8 468.2,275.4 469.2,275.3 470.3,275.4 471.3,275.8 472.0,276.6 472.7,277.9 473.3,279.2 474.0,280.6 474.9,281.9 475.8,283.2 476.9,284.6 478.0,286.0 479.3,287.6 480.8,289.3 482.2,290.9 483.5,292.1 484.6,292.9 485.6,293.3 486.5,293.4 487.5,292.8 488.5,291.5 489.5,289.6 490.6,287.2 491.6,284.6 492.6,281.4 493.7,277.7 494.7,274.0 495.7,271.1 496.6,269.2 497.4,268.0 498.2,267.0 499.0,265.7 499.8,263.8 500.7,261.6 501.5,259.8 502.4,258.9 503.4,259.4 504.4,260.8 505.5,262.7 506.5,264.3 507.6,265.8 508.6,267.3 509.7,268.7 510.6,269.7 511.3,270.3 512.0,270.5 512.6,270.5 513.4,270.4 514.5,270.0 515.7,269.4 517.0,268.8 518.1,268.4 519.0,268.4 519.9,268.6 520.7,268.7 521.5,268.4 522.3,267.4 523.2,265.9 524.0,264.4 524.9,263.6 525.9,263.6 526.9,264.1 527.9,264.9 529.0,265.7 530.1,266.6 531.4,267.7 532.6,268.6 533.7,269.0 534.8,268.3 535.8,267.0 536.8,265.8 537.8,265.7 538.7,267.3 539.5,269.9 540.3,272.8 541.2,275.1 542.3,276.8 543.5,278.1 544.7,279.2 545.9,279.9 547.1,280.2 548.4,280.0 549.6,279.6 550.7,279.2 551.6,278.9 552.5,278.5 553.3,277.8 554.0,276.5 554.7,274.3 555.3,271.4 555.9,268.4 556.7,265.7 557.6,263.6 558.7,261.8 559.7,260.1 560.8,258.2 561.8,256.1 562.8,253.9 563.8,251.6 564.9,249.4 566.2,247.1 567.7,244.7 569.1,242.5 570.0,241.0" stroke="#ff7f0e" stroke-opacity="0.7" stroke-width="4.17"/>
</g>
<g fill="#000" fill-opacity="0.835"><rect x="101" y="45" width="2" height="464"/><rect x="566" y="45" width="2" height="464"/><rect x="101" y="45" width="467" height="2"/><rect x="101" y="507" width="467" height="2"/><rect x="95" y="63" width="7" height="2"/><rect x="95" y="121" width="7" height="2"/><rect x="95" y="178" width="7" height="2"/><rect x="95" y="236" width="7" height="2"/><rect x="95" y="294" width="7" height="2"/><rect x="95" y="351" width="7" height="2"/><rect x="95" y="409" width="7" height="2"/><rect x="95" y="467" width="7" height="2"/><rect x="218" y="508" width="2" height="7"/><rect x="385" y="508" width="2" height="7"/><rect x="553" y="508" width="2" height="7"/></g>
<g fill="#000"><rect x="101.875" y="508" width="1.25" height="4.5"/><rect x="130.875" y="508" width="1.25" height="4.5"/><rect x="151.875" y="508" width="1.25" height="4.5"/><rect x="168.875" y="508" width="1.25" height="4.5"/><rect x="181.875" y="508" width="1.25" height="4.5"/><rect x="192.875" y="508" width="1.25" height="4.5"/><rect x="202.875" y="508" width="1.25" height="4.5"/><rect x="210.875" y="508" width="1.25" height="4.5"/><rect x="268.875" y="508" width="1.25" height="4.5"/><rect x="298.875" y="508" width="1.25" height="4.5"/><rect x="319.875" y="508" width="1.25" height="4.5"/><rect x="335.875" y="508" width="1.25" height="4.5"/><rect x="348.875" y="508" width="1.25" height="4.5"/><rect x="359.875" y="508" width="1.25" height="4.5"/><rect x="369.875" y="508" width="1.25" height="4.5"/><rect x="378.875" y="508" width="1.25" height="4.5"/><rect x="436.875" y="508" width="1.25" height="4.5"/><rect x="465.875" y="508" width="1.25" height="4.5"/><rect x="486.875" y="508" width="1.25" height="4.5"/><rect x="502.875" y="508" width="1.25" height="4.5"/><rect x="516.875" y="508" width="1.25" height="4.5"/><rect x="527.875" y="508" width="1.25" height="4.5"/><rect x="536.875" y="508" width="1.25" height="4.5"/><rect x="545.875" y="508" width="1.25" height="4.5"/></g>
<g font-family="Liberation Sans, sans-serif" fill="#000">
<text x="204.30" y="34.00" font-size="26.20" textLength="261.50" lengthAdjust="spacingAndGlyphs">Magnitude Spectrum</text>
<text x="259.30" y="572.00" font-size="20.84" textLength="149.80" lengthAdjust="spacingAndGlyphs">Frequency(Hz)</text>
<text x="31.50" y="357.40" font-size="20.84" textLength="152.80" lengthAdjust="spacingAndGlyphs" transform="rotate(-90 31.50 357.40)">Magnitude(dB)</text>
<text x="61.00" y="72.00" font-size="22.40" textLength="24.40" lengthAdjust="spacingAndGlyphs">20</text>
<text x="61.30" y="130.00" font-size="22.40" textLength="24.40" lengthAdjust="spacingAndGlyphs">15</text>
<text x="61.30" y="187.50" font-size="22.40" textLength="24.40" lengthAdjust="spacingAndGlyphs">10</text>
<text x="75.00" y="245.50" font-size="22.40" textLength="11.70" lengthAdjust="spacingAndGlyphs">5</text>
<text x="74.00" y="303.00" font-size="22.40" textLength="12.40" lengthAdjust="spacingAndGlyphs">0</text>
<text x="58.00" y="360.50" font-size="22.40" textLength="27.70" lengthAdjust="spacingAndGlyphs">−5</text>
<text x="45.00" y="418.50" font-size="22.40" textLength="41.40" lengthAdjust="spacingAndGlyphs">−10</text>
<text x="45.00" y="476.50" font-size="22.40" textLength="40.70" lengthAdjust="spacingAndGlyphs">−15</text>
<text x="202.30" y="543.00" font-size="22.40" textLength="24.40" lengthAdjust="spacingAndGlyphs">10</text>
<text x="228.00" y="535.00" font-size="16.21">2</text>
<text x="369.30" y="543.00" font-size="22.40" textLength="24.40" lengthAdjust="spacingAndGlyphs">10</text>
<text x="395.00" y="535.00" font-size="16.21">3</text>
<text x="536.30" y="543.00" font-size="22.40" textLength="24.40" lengthAdjust="spacingAndGlyphs">10</text>
<text x="562.30" y="535.00" font-size="16.21">4</text>
</g>
<path d="M306.17,56 H552.83 Q557,56 557,60.17 V118.83 Q557,123 552.83,123 H306.17 Q302,123 302,118.83 V60.17 Q302,56 306.17,56 Z" fill="#fff" fill-opacity="0.8" stroke="#cccccc" stroke-opacity="0.8" stroke-width="2.08"/>
<path d="M310.1,73 H351.9" stroke="#1f77b4" stroke-width="4.17" stroke-linecap="square"/>
<path d="M310.1,104 H351.9" stroke="#ff7f0e" stroke-opacity="0.7" stroke-width="4.17" stroke-linecap="square"/>
<g font-family="Liberation Sans, sans-serif" fill="#000">
<text x="368.30" y="80.00" font-size="20.74" textLength="178.80" lengthAdjust="spacingAndGlyphs">Pred. (smoothed)</text>
<text x="368.00" y="111.00" font-size="20.74" textLength="154.10" lengthAdjust="spacingAndGlyphs">GT (smoothed)</text>
</g>
</svg>
</body></html>
